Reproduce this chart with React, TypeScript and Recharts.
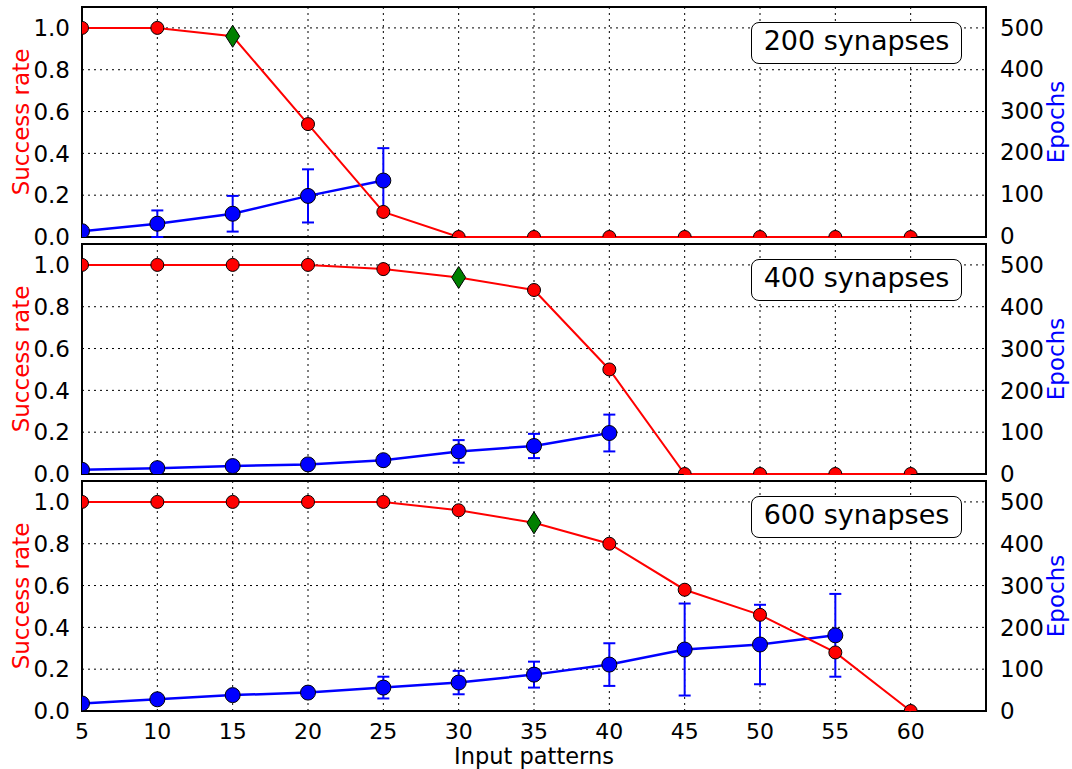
import React from "react";
import {
  ComposedChart,
  Line,
  XAxis,
  YAxis,
  CartesianGrid,
  ErrorBar,
  ReferenceArea,
} from "recharts";

const patterns = [5, 10, 15, 20, 25, 30, 35, 40, 45, 50, 55, 60];
const successTicks = [0, 0.2, 0.4, 0.6, 0.8, 1.0];
const epochTicks = [0, 100, 200, 300, 400, 500];

// 200 synapses
const success200 = [1.0, 1.0, 0.96, 0.54, 0.12, 0, 0, 0, 0, 0, 0, 0];
const epochs200 = [10, 28, 52, 95, 132];
const epochsErr200 = [0, 32, 43, 64, 78];

// 400 synapses
const success400 = [1.0, 1.0, 1.0, 1.0, 0.98, 0.94, 0.88, 0.5, 0, 0, 0, 0];
const epochs400 = [10, 14, 19, 23, 33, 54, 67, 98];
const epochsErr400 = [0, 3, 4, 4, 10, 27, 29, 44];

// 600 synapses
const success600 = [1.0, 1.0, 1.0, 1.0, 1.0, 0.96, 0.9, 0.8, 0.58, 0.46, 0.28, 0];
const epochs600 = [18, 28, 38, 44, 56, 68, 87, 111, 147, 159, 181];
const epochsErr600 = [0, 4, 5, 5, 26, 28, 31, 51, 110, 95, 99];

// pattern count where the diamond marker sits
const thresholds = [15, 30, 35];
const panelNames = ["200 synapses", "400 synapses", "600 synapses"];

const FONT = "DejaVu Sans";
const RED = "#ff0000";
const BLUE = "#0000ff";
const GREEN = "#008000";
const PANEL_TOPS = [0, 237, 474];

// plot box inside each svg
const CHART_W = 1072;
const LEFT_W = 82;
const RIGHT_W = 86;
const TOP = 7;
const PLOT_H = 230;

const panels = [
  { success: success200, epochs: epochs200, err: epochsErr200 },
  { success: success400, epochs: epochs400, err: epochsErr400 },
  { success: success600, epochs: epochs600, err: epochsErr600 },
].map((p, i) => ({
  name: panelNames[i],
  threshold: thresholds[i],
  rateData: patterns.map((x, j) => ({ x, rate: p.success[j] })),
  epochData: p.epochs.map((e, j) => ({ x: patterns[j], epochs: e, err: p.err[j] })),
}));

function RateDot(threshold: number, clip: string) {
  // eslint-disable-next-line @typescript-eslint/no-explicit-any
  return (props: any) => {
    const { cx, cy, payload, index } = props;
    if (cx == null || cy == null) return <g key={`e-${index}`} />;
    if (payload.x === threshold) {
      return (
        <polygon
          key={`d-${index}`}
          points={`${cx},${cy - 11} ${cx + 7},${cy} ${cx},${cy + 11} ${cx - 7},${cy}`}
          fill={GREEN}
          stroke="#000"
          strokeWidth={1}
          clipPath={`url(#${clip})`}
        />
      );
    }
    return (
      <circle key={`c-${index}`} cx={cx} cy={cy} r={6.5} fill={RED} stroke="#000" strokeWidth={1} clipPath={`url(#${clip})`} />
    );
  };
}

function EpochDot(clip: string) {
  // eslint-disable-next-line @typescript-eslint/no-explicit-any
  return (props: any) => {
    const { cx, cy, index } = props;
    if (cx == null || cy == null) return <g key={`e-${index}`} />;
    return (
      <circle key={`b-${index}`} cx={cx} cy={cy} r={7.5} fill={BLUE} stroke="#000" strokeWidth={1} clipPath={`url(#${clip})`} />
    );
  };
}

// tick text drawn by hand so the font size sticks
function Tick(fmt: (v: number) => string, dy: string, size: number) {
  // eslint-disable-next-line @typescript-eslint/no-explicit-any
  return (props: any) => {
    const { x, y, payload, textAnchor } = props;
    return (
      <text x={x} y={y} dy={dy} textAnchor={textAnchor} fill="#000" fontSize={size} fontFamily={FONT}>
        {fmt(payload.value)}
      </text>
    );
  };
}

// eslint-disable-next-line @typescript-eslint/no-explicit-any
function LeftLabel({ viewBox }: any) {
  const x = viewBox.x + 29;
  const y = viewBox.y + viewBox.height / 2;
  return (
    <text x={x} y={y} transform={`rotate(-90 ${x} ${y})`} textAnchor="middle" fill={RED} fontSize={23} fontFamily={FONT}>
      Success rate
    </text>
  );
}

// eslint-disable-next-line @typescript-eslint/no-explicit-any
function RightLabel({ viewBox }: any) {
  const x = viewBox.x + 78;
  const y = viewBox.y + viewBox.height / 2;
  return (
    <text x={x} y={y} transform={`rotate(-90 ${x} ${y})`} textAnchor="middle" fill={BLUE} fontSize={23} fontFamily={FONT}>
      Epochs
    </text>
  );
}

// eslint-disable-next-line @typescript-eslint/no-explicit-any
function BottomLabel({ viewBox }: any) {
  return (
    <text x={viewBox.x + viewBox.width / 2} y={viewBox.y + 53} textAnchor="middle" fill="#000" fontSize={22.5} fontFamily={FONT}>
      Input patterns
    </text>
  );
}

export default function App() {
  return (
    <div style={{ position: "absolute", left: 0, top: 0, width: 1072, height: 769, background: "#fff", fontFamily: FONT }}>
      {panels.map((p, i) => {
        const last = i === panels.length - 1;
        const clip = `plot-clip-${i}`;
        const height = last ? 295 : 252;
        return (
          <div key={p.name} style={{ position: "absolute", left: 0, top: PANEL_TOPS[i] }}>
            <ComposedChart
              width={CHART_W}
              height={height}
              margin={{ top: TOP, right: 0, bottom: height - TOP - PLOT_H - (last ? 58 : 0), left: 0 }}
              style={{ overflow: "visible" }}
            >
              <defs>
                <clipPath id={clip}>
                  <rect x={LEFT_W} y={TOP} width={CHART_W - LEFT_W - RIGHT_W} height={PLOT_H} />
                </clipPath>
              </defs>
              <CartesianGrid yAxisId="l" stroke="#000" strokeWidth={1} strokeDasharray="2 4" />
              <XAxis
                dataKey="x"
                type="number"
                domain={[5, 65]}
                ticks={patterns}
                interval={0}
                allowDataOverflow
                hide={!last}
                height={last ? 58 : 0}
                tickLine={false}
                axisLine={false}
                tickMargin={6}
                tick={Tick((v) => String(v), "0.71em", 22)}
                label={last ? { content: <BottomLabel /> } : undefined}
              />
              <YAxis
                yAxisId="l"
                domain={[0, 1.1]}
                ticks={successTicks}
                interval={0}
                width={LEFT_W}
                tickLine={false}
                axisLine={false}
                tickMargin={6}
                tick={Tick((v) => v.toFixed(1), "0.355em", 23)}
                label={{ content: <LeftLabel /> }}
              />
              <YAxis
                yAxisId="r"
                orientation="right"
                domain={[0, 550]}
                ticks={epochTicks}
                interval={0}
                width={RIGHT_W}
                tickLine={false}
                axisLine={false}
                tickMargin={8}
                tick={Tick((v) => String(v), "0.355em", 23)}
                label={{ content: <RightLabel /> }}
              />
              <Line
                yAxisId="r"
                data={p.epochData}
                dataKey="epochs"
                stroke={BLUE}
                strokeWidth={2.5}
                dot={EpochDot(clip)}
                activeDot={false}
                isAnimationActive={false}
              >
                <ErrorBar dataKey="err" direction="y" width={6} stroke={BLUE} strokeWidth={2} />
              </Line>
              <Line
                yAxisId="l"
                data={p.rateData}
                dataKey="rate"
                stroke={RED}
                strokeWidth={2}
                dot={RateDot(p.threshold, clip)}
                activeDot={false}
                isAnimationActive={false}
              />
              <ReferenceArea
                yAxisId="l"
                x1={5}
                x2={65}
                y1={0}
                y2={1.1}
                fill="none"
                fillOpacity={0}
                stroke="#000"
                strokeWidth={2}
              />
            </ComposedChart>
            <div
              style={{
                position: "absolute",
                left: 751,
                top: 22,
                width: 211,
                height: 42,
                boxSizing: "border-box",
                border: "1.5px solid #000",
                borderRadius: 8,
                background: "#fff",
                display: "flex",
                alignItems: "center",
                justifyContent: "center",
                paddingBottom: 5,
                fontSize: 27,
                color: "#000",
              }}
            >
              {p.name}
            </div>
          </div>
        );
      })}
    </div>
  );
}
